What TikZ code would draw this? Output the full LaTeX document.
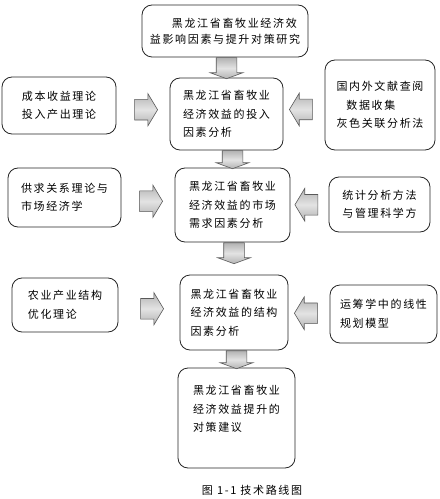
\documentclass[tikz,border=0pt]{standalone}
\usepackage{fontspec}
\newfontfamily\cjk[LetterSpace=15]{Noto Sans CJK SC}
\usetikzlibrary{shapes.arrows,calc}

\begin{document}
\begin{tikzpicture}[x=1bp,y=-1bp,
box/.style={draw=black!85,line width=0.8bp,rounded corners=10bp,align=left,inner sep=0pt,
font=\fontsize{11bp}{18.5bp}\cjk},
fat/.style={single arrow,draw=gray!70!black,line width=0.6bp,top color=gray!60,bottom color=gray!60,
middle color=gray!22,inner xsep=0pt,inner ysep=10bp,single arrow head extend=6bp},
harr/.style={fat,minimum height=23bp,single arrow tip angle=118},
varr/.style={fat,minimum height=20bp,single arrow tip angle=140,rotate=-90,anchor=tail}]
\useasboundingbox (0,0) rectangle (440,499);
\node[box,minimum width=166bp,minimum height=52bp,font=\fontsize{11bp}{16bp}\cjk] (b0) at (225,31)
{\hspace*{2em}黑龙江省畜牧业经济效\\益影响因素与提升对策研究};
\node[box,minimum width=113bp,minimum height=72bp] (b1) at (226.5,114)
{黑龙江省畜牧业\\经济效益的投入\\因素分析};
\node[box,minimum width=115bp,minimum height=74bp] (b2) at (232.5,205)
{黑龙江省畜牧业\\经济效益的市场\\需求因素分析};
\node[box,minimum width=108bp,minimum height=75bp] (b3) at (234,312.5)
{黑龙江省畜牧业\\经济效益的结构\\因素分析};
\node[box,minimum width=117bp,minimum height=100bp] (b4) at (236.5,418)
{黑龙江省畜牧业\\经济效益提升的\\对策建议\\\mbox{}};
\node[box,minimum width=114bp,minimum height=57bp] (l1) at (59,105.5)
{成本收益理论\\投入产出理论};
\node[box,minimum width=113bp,minimum height=59bp] (l2) at (64.5,197.5)
{供求关系理论与\\市场经济学};
\node[box,minimum width=106bp,minimum height=54bp] (l3) at (65,305)
{农业产业结构\\优化理论};
\node[box,minimum width=110bp,minimum height=90bp] (r1) at (380,105)
{国内外文献查阅\\\hspace*{0.9em}数据收集\\灰色关联分析法};
\node[box,minimum width=101bp,minimum height=55bp] (r2) at (379.5,204.5)
{统计分析方法\\与管理科学方};
\node[box,minimum width=107bp,minimum height=58bp] (r3) at (383.5,314)
{运筹学中的线性\\规划模型};
\node[font=\fontsize{11bp}{13bp}\cjk] (cap) at (252,490) {图 1-1 技术路线图};
\node[varr,minimum height=21bp] (a0) at (b0.south -| b1.north) {};
\node[varr,minimum height=18bp] (a1) at (b1.south -| b2.north) {};
\node[varr,minimum height=21bp] (a2) at (b2.south -| b3.north) {};
\node[varr,minimum height=18bp] (a3) at (b3.south -| b4.north) {};
\node[harr] (al1) at ($(l1.east)!0.5!(b1.west)$) {};
\node[harr] (al2) at ($(l2.east)!0.5!(b2.west)$) {};
\node[harr] (al3) at ($(l3.east)!0.5!(b3.west)$) {};
\node[harr,rotate=180] (ar1) at ($(r1.west)!0.5!(b1.east)$) {};
\node[harr,rotate=180] (ar2) at ($(r2.west)!0.5!(b2.east)$) {};
\node[harr,rotate=180] (ar3) at ($(r3.west)!0.5!(b3.east)$) {};
\end{tikzpicture}
\end{document}
